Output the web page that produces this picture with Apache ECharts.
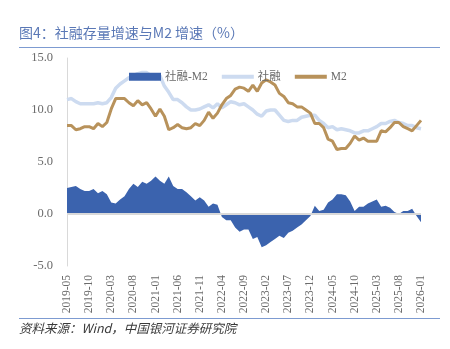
<!DOCTYPE html>
<html>
<head>
<meta charset="utf-8">
<script src="https://cdn.jsdelivr.net/npm/echarts@6/dist/echarts.min.js"></script>
<style>
  html, body { margin: 0; padding: 0; background: #ffffff; }
  #chart { width: 450px; height: 349px; }
</style>
</head>
<body>
<div id="chart"></div>
<script>
// Monthly observations, 2019-05 .. 2026-01
const months = [
  '2019-05','2019-06','2019-07','2019-08','2019-09','2019-10','2019-11','2019-12',
  '2020-01','2020-02','2020-03','2020-04','2020-05','2020-06','2020-07','2020-08','2020-09','2020-10','2020-11','2020-12',
  '2021-01','2021-02','2021-03','2021-04','2021-05','2021-06','2021-07','2021-08','2021-09','2021-10','2021-11','2021-12',
  '2022-01','2022-02','2022-03','2022-04','2022-05','2022-06','2022-07','2022-08','2022-09','2022-10','2022-11','2022-12',
  '2023-01','2023-02','2023-03','2023-04','2023-05','2023-06','2023-07','2023-08','2023-09','2023-10','2023-11','2023-12',
  '2024-01','2024-02','2024-03','2024-04','2024-05','2024-06','2024-07','2024-08','2024-09','2024-10','2024-11','2024-12',
  '2025-01','2025-02','2025-03','2025-04','2025-05','2025-06','2025-07','2025-08','2025-09','2025-10','2025-11','2025-12',
  '2026-01'
];

// 社融存量同比 (%)
const tsfGrowth = [
  11.0, 11.1, 10.8, 10.6, 10.6, 10.6, 10.6, 10.7,
  10.6, 10.7, 11.2, 12.1, 12.5, 12.8, 13.1, 13.3, 13.5, 13.6, 13.6, 13.3,
  13.0, 13.3, 12.3, 11.7, 11.0, 11.0, 10.7, 10.3, 10.0, 10.0, 10.1, 10.3,
  10.5, 10.2, 10.6, 10.2, 10.5, 10.8, 10.7, 10.5, 10.6, 10.3, 10.0, 9.6,
  9.4, 9.9, 10.0, 10.0, 9.5, 9.0, 8.9, 9.0, 9.0, 9.3, 9.4, 9.5,
  9.5, 9.0, 8.7, 8.3, 8.4, 8.1, 8.2, 8.1, 8.0, 7.8, 7.8, 8.0,
  8.0, 8.2, 8.4, 8.7, 8.7, 8.9, 9.0, 8.8, 8.7, 8.5, 8.5, 8.3,
  8.2
];

// M2 同比 (%)
const m2Growth = [
  8.5, 8.5, 8.1, 8.2, 8.4, 8.4, 8.2, 8.7,
  8.4, 8.8, 10.1, 11.1, 11.1, 11.1, 10.7, 10.4, 10.9, 10.5, 10.7, 10.1,
  9.4, 10.1, 9.4, 8.1, 8.3, 8.6, 8.3, 8.2, 8.3, 8.7, 8.5, 9.0,
  9.8, 9.2, 9.7, 10.5, 11.1, 11.4, 12.0, 12.2, 12.1, 11.8, 12.4, 11.8,
  12.6, 12.9, 12.7, 12.4, 11.6, 11.3, 10.7, 10.6, 10.3, 10.3, 10.0, 9.7,
  8.7, 8.7, 8.3, 7.2, 7.0, 6.2, 6.3, 6.3, 6.8, 7.5, 7.1, 7.3,
  7.0, 7.0, 7.0, 8.0, 7.9, 8.3, 8.8, 8.8, 8.4, 8.2, 8.0, 8.5,
  9.0
];

// 社融-M2 剪刀差 (pct)
const spread = [
  2.5, 2.6, 2.7, 2.4, 2.2, 2.2, 2.4, 2.0,
  2.2, 1.9, 1.1, 1.0, 1.4, 1.7, 2.4, 2.9, 2.6, 3.1, 2.9, 3.2,
  3.6, 3.2, 2.9, 3.6, 2.7, 2.4, 2.4, 2.1, 1.7, 1.3, 1.6, 1.3,
  0.7, 1.0, 0.9, -0.3, -0.6, -0.6, -1.3, -1.7, -1.5, -1.5, -2.4, -2.2,
  -3.2, -3.0, -2.7, -2.4, -2.1, -2.3, -1.8, -1.6, -1.3, -1.0, -0.6, -0.2,
  0.8, 0.3, 0.4, 1.1, 1.4, 1.9, 1.9, 1.8, 1.2, 0.3, 0.7, 0.7,
  1.0, 1.2, 1.4, 0.7, 0.8, 0.6, 0.2, 0.0, 0.3, 0.3, 0.5, -0.2,
  -0.8
];

const seriesNames = ['社融-M2', '社融', 'M2'];
const titleText = '图4：社融存量增速与M2 增速（%）';
const sourceText = '资料来源：Wind，中国银河证券研究院';

const serifFont = '"Liberation Serif", "DejaVu Serif", "Noto Sans CJK SC", serif';
const cjkFont = '"Noto Sans CJK SC", "Liberation Serif", sans-serif';
const legendFont = '"Liberation Serif", "Noto Sans CJK SC", serif';

// flat bar used as the legend swatch of the two line series
const lineSwatch = 'path://M0,0 L32,0 L32,4 L0,4 Z';

const chart = echarts.init(document.getElementById('chart'), null, { renderer: 'canvas' });

chart.setOption({
  animation: false,
  backgroundColor: '#ffffff',
  graphic: [
    {
      type: 'text', left: 19, top: 26,
      style: { text: titleText, fill: '#5a78b6', font: '14px ' + cjkFont }
    },
    {
      type: 'line', shape: { x1: 19, y1: 47.5, x2: 440, y2: 47.5 },
      style: { stroke: '#7d9bd1', lineWidth: 1.2 }
    },
    {
      type: 'line', shape: { x1: 19, y1: 318.5, x2: 440, y2: 318.5 },
      style: { stroke: '#7d9bd1', lineWidth: 1.2 }
    },
    {
      type: 'text', left: 19, top: 322,
      style: { text: sourceText, fill: '#3a3a3a', font: 'italic 12.5px ' + cjkFont }
    }
  ],
  legend: {
    left: 124, top: 66,
    itemWidth: 32, itemHeight: 8, itemGap: 14,
    textStyle: { color: '#6b6b6b', fontSize: 11.5, fontFamily: legendFont, padding: [0, 0, 0, -1] },
    data: [
      { name: seriesNames[0], icon: 'rect' },
      { name: seriesNames[1], icon: lineSwatch },
      { name: seriesNames[2], icon: lineSwatch }
    ]
  },
  grid: { left: 67, right: 29, top: 58, bottom: 83, containLabel: false },
  xAxis: {
    type: 'category',
    data: months,
    boundaryGap: false,
    axisLine: { show: false },
    axisTick: { show: false },
    axisLabel: {
      interval: 4, rotate: 90, margin: 9,
      color: '#6b6b6b', fontSize: 11.5, fontFamily: serifFont
    },
    splitLine: { show: false }
  },
  yAxis: {
    type: 'value',
    min: -5, max: 15, interval: 5,
    axisLine: { show: true, lineStyle: { color: '#d9d9d9', width: 1 } },
    axisTick: { show: false },
    splitLine: { show: false },
    axisLabel: {
      margin: 14, color: '#6b6b6b', fontSize: 12.5, fontFamily: serifFont,
      formatter: v => v.toFixed(1)
    }
  },
  series: [
    {
      name: seriesNames[0], type: 'line', data: spread,
      symbol: 'none', itemStyle: { color: '#3b63ae' },
      lineStyle: { width: 0 },
      areaStyle: { color: '#3b63ae', opacity: 1 },
      z: 1,
      markLine: {
        silent: true, symbol: 'none', label: { show: false },
        lineStyle: { color: '#d9d9d9', width: 2, type: 'solid' },
        data: [{ yAxis: 0 }]
      }
    },
    {
      name: seriesNames[1], type: 'line', data: tsfGrowth,
      symbol: 'none', itemStyle: { color: '#cddbf0' },
      lineStyle: { color: '#cddbf0', width: 3.5 },
      z: 2
    },
    {
      name: seriesNames[2], type: 'line', data: m2Growth,
      symbol: 'none', itemStyle: { color: '#b8925b' },
      lineStyle: { color: '#b8925b', width: 3 },
      z: 3
    }
  ]
});
</script>
</body>
</html>
